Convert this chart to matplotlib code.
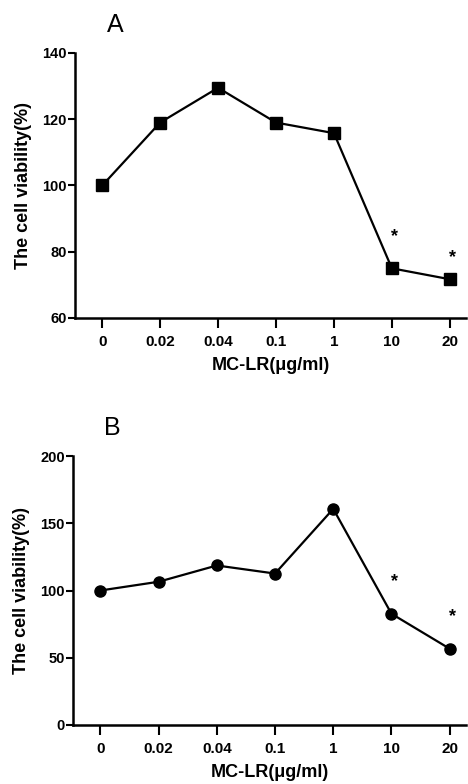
import matplotlib
matplotlib.use("Agg")
import matplotlib.pyplot as plt

plt.rcParams['font.family'] = ['Liberation Sans', 'DejaVu Sans']

categories = ["0", "0.02", "0.04", "0.1", "1", "10", "20"]
viability_a = [100, 119, 129.5, 119, 115.8, 75, 71.7]
viability_b = [100, 106.5, 118.6, 112.6, 160.7, 82.7, 56.7]
signif_a = ["", "", "", "", "", "*", "*"]
signif_b = ["", "", "", "", "", "*", "*"]

fig = plt.figure(figsize=(4.68, 7.84), dpi=100)
axA = fig.add_axes([75/468, 1-318/784, 391/468, 265/784])
axB = fig.add_axes([73/468, 1-725/784, 393/468, 269/784])

x = list(range(len(categories)))

def style(ax, ylim, yticks):
    ax.set_xlim(-0.47, 6.28)
    ax.set_ylim(*ylim)
    ax.set_yticks(yticks)
    ax.set_xticks(x)
    ax.set_xticklabels(categories)
    for s in ['top', 'right']:
        ax.spines[s].set_visible(False)
    for s in ['left', 'bottom']:
        ax.spines[s].set_linewidth(1.8)
    ax.tick_params(axis='y', direction='out', length=5, width=1.5, labelsize=10.5, pad=1)
    ax.tick_params(axis='x', direction='out', length=7, width=1.5, labelsize=11, pad=5)
    for lab in ax.get_xticklabels() + ax.get_yticklabels():
        lab.set_fontweight('bold')
    ax.set_ylabel("The cell viability(%)", fontsize=13, fontweight='bold')
    ax.set_xlabel("MC-LR(μg/ml)", fontsize=13, fontweight='bold', labelpad=6)

axA.plot(x, viability_a, color='black', lw=1.6, marker='s', markersize=9, zorder=3)
style(axA, (60, 140), [60, 80, 100, 120, 140])
axA.yaxis.set_label_coords(-0.11, 0.5)
for xi, v, s in zip(x, viability_a, signif_a):
    if s:
        off = 22 if xi == 6 else 32
        axA.annotate(s, (xi, v), xytext=(3, off), textcoords='offset pixels',
                     ha='center', va='center', fontsize=13, fontweight='bold')

axB.plot(x, viability_b, color='black', lw=1.6, marker='o', markersize=8, zorder=3)
style(axB, (0, 200), [0, 50, 100, 150, 200])
axB.yaxis.set_label_coords(-0.11, 0.5)
for xi, v, s in zip(x, viability_b, signif_b):
    if s:
        axB.annotate(s, (xi, v), xytext=(3, 32), textcoords='offset pixels',
                     ha='center', va='center', fontsize=13, fontweight='bold')

fig.text(115/468, 1-25/784, "A", fontsize=18, ha='center', va='center')
fig.text(112/468, 1-428/784, "B", fontsize=18, ha='center', va='center')

fig.savefig("out.png", dpi=100)
